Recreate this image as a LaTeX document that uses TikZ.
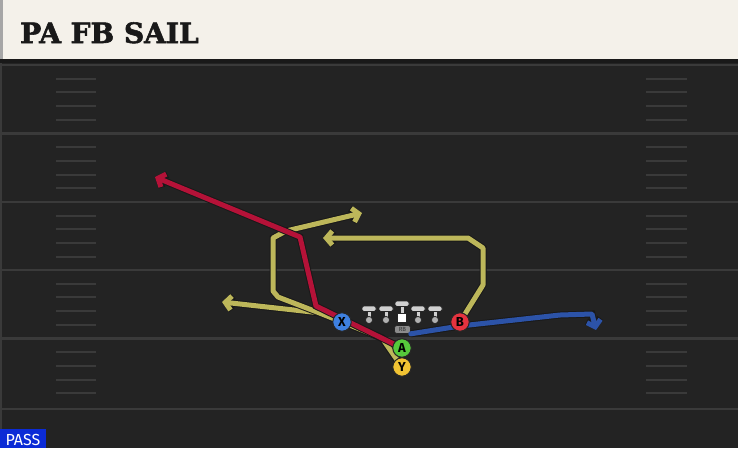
\documentclass[tikz,border=0pt]{standalone}
\usepackage{fontspec}
\setsansfont{Fira Sans}
\newfontfamily\titlefont[BoldFeatures={FakeBold=2}]{DejaVu Serif}
\usetikzlibrary{arrows.meta}
\definecolor{field}{HTML}{232323}
\definecolor{fieldline}{HTML}{3A3A3A}
\definecolor{header}{HTML}{F4F1EA}
\definecolor{routered}{HTML}{B51238}
\definecolor{routeyel}{HTML}{BDB75A}
\definecolor{routeblue}{HTML}{2C53A8}
\definecolor{btnX}{HTML}{3E80E0}
\definecolor{btnA}{HTML}{56C93B}
\definecolor{btnY}{HTML}{F1C333}
\definecolor{btnB}{HTML}{E5333F}
\definecolor{passblue}{HTML}{0B2BD6}
\definecolor{lineman}{HTML}{D0D0D0}

\begin{document}
\begin{tikzpicture}[x=1pt,y=-1pt,
    route/.style={line width=5pt,line join=round,line cap=round,
      preaction={draw=black!90,line width=7pt}},
    tip/.style={-{Straight Barb[length=6pt,width=14pt]}},
    player/.style={circle,draw=black!85,line width=1pt,minimum size=18.5pt,inner sep=0pt,
      font=\sffamily\bfseries\fontsize{13}{13}\selectfont},
    hash/.style={fieldline,line width=2pt}]
  \useasboundingbox (0,0) rectangle (738,448);
   \fill[field] (0,0) rectangle (738,448);
   \draw[fieldline,line width=1.5pt] (1,63) -- (1,429);
  \foreach \yl in {65,133.5,202,270,338.5,409}
    \draw[fieldline,line width=2.5pt] (0,\yl) -- (738,\yl);
  \foreach \yl in {65,133.5,202,270,338.5}
    \foreach \k in {1,...,4} {
      \draw[hash] (56,\yl+13.7*\k) -- (96,\yl+13.7*\k);
      \draw[hash] (646,\yl+13.7*\k) -- (687,\yl+13.7*\k);
    }
   \fill[black!90] (0,58) rectangle (738,63);
   \fill[header] (0,0) rectangle (738,59);
   \fill[black!35] (0,0) rectangle (3,59);
  \node[anchor=base west,inner sep=0pt,text=black!90,font=\titlefont\bfseries\fontsize{28}{28}\selectfont] (title) at (20,43) {PA FB SAIL};

      \coordinate (posX) at (342,322);
      \coordinate (posA) at (402,348);
      \coordinate (posY) at (402,367);
      \coordinate (posB) at (460,322);
      \coordinate (split) at (382,338);
    \draw[route,routeyel,tip] (posY) -- (split) -- (321,313) -- (222,302);
    \draw[route,routeyel,tip] (posY) -- (split) -- (317,312) -- (278,297) -- (273,291) -- (273,238) -- (286,231) -- (362,213);
    \draw[route,routeyel,tip] (posB) -- (483,285) -- (483,248) -- (468,238) -- (323,238);
    \draw[route,routered,tip] (posA) -- (316,306) -- (300,237) -- (155,177);

  \foreach \lx in {369,386,418,435} {
      \filldraw[fill=lineman,draw=black!85,line width=.8pt,rounded corners=1.5pt] (\lx-7,306) rectangle (\lx+7,311.5);
      \filldraw[fill=lineman,draw=black!85,line width=.8pt] (\lx-2,311.5) rectangle (\lx+2,318.5);
      \filldraw[fill=lineman!85!black,draw=black!85,line width=.8pt] (\lx,320) circle (3.6);
  }
      \filldraw[fill=lineman,draw=black!85,line width=.8pt,rounded corners=1.5pt] (395,301) rectangle (409,306.5);
      \filldraw[fill=lineman,draw=black!85,line width=.8pt] (400,306.5) rectangle (404,313);
      \filldraw[fill=white,draw=black!85,line width=.8pt] (397.5,313) rectangle (406.5,322);
      \node[fill=black!45,draw=black!85,line width=.6pt,rounded corners=2.5pt,inner sep=0pt,minimum width=16pt,minimum height=8pt,
        font=\sffamily\fontsize{6}{6}\selectfont,text=black!80] (RB) at (402.5,329.5) {RB};
    \draw[route,routeblue,tip] (RB.south east) -- (460,326) -- (560,315) -- (592,314) -- (596,330);

      \node[player,fill=btnX] (X) at (posX) {X};
      \node[player,fill=btnA] (A) at (posA) {A};
      \node[player,fill=btnY] (Y) at (posY) {Y};
      \node[player,fill=btnB] (B) at (posB) {B};

  \fill[passblue] (0,429) rectangle (46,448);
  \node[anchor=base,inner sep=0pt,text=white,font=\sffamily\fontsize{16}{16}\selectfont] (pass) at (23,445) {PASS};
\end{tikzpicture}
\end{document}
